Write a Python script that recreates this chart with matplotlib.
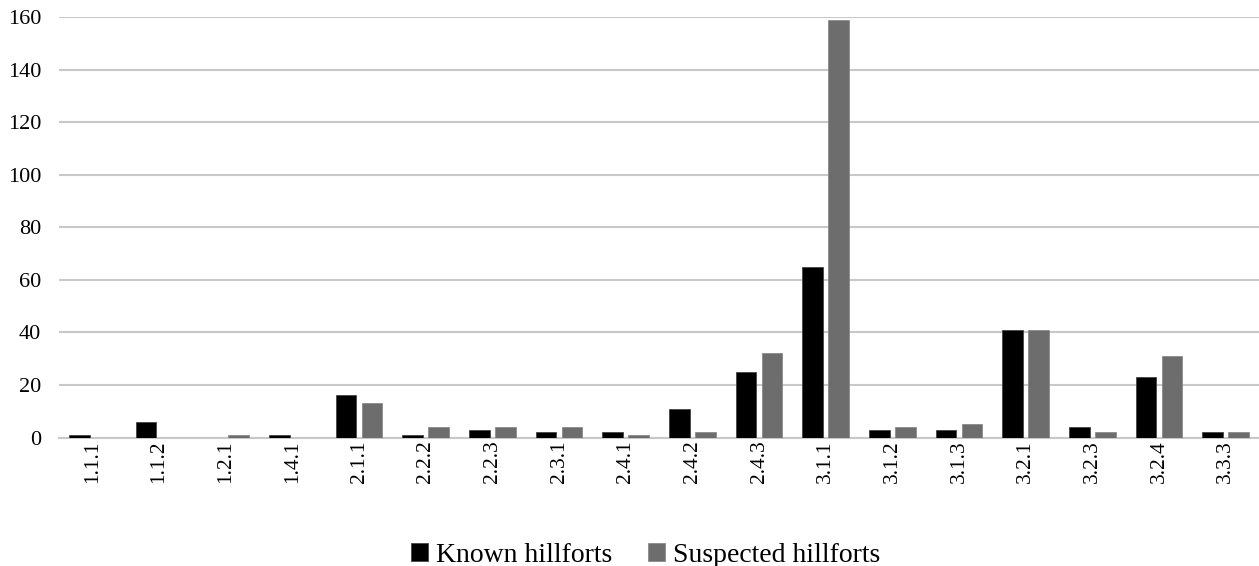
import numpy as np
import matplotlib.pyplot as plt

categories = ['1.1.1', '1.1.2', '1.2.1', '1.4.1', '2.1.1', '2.2.2', '2.2.3', '2.3.1', '2.4.1',
              '2.4.2', '2.4.3', '3.1.1', '3.1.2', '3.1.3', '3.2.1', '3.2.3', '3.2.4', '3.3.3']
known = [1, 6, 0, 1, 16, 1, 3, 2, 2, 11, 25, 65, 3, 3, 41, 4, 23, 2]
suspected = [0, 0, 1, 0, 13, 4, 4, 4, 1, 2, 32, 159, 4, 5, 41, 2, 31, 2]
y_ticks = [0, 20, 40, 60, 80, 100, 120, 140, 160]

plt.rcParams['font.family'] = ['Liberation Serif', 'DejaVu Serif']

fig = plt.figure(figsize=(12.59, 5.66), dpi=100)
ax = fig.add_axes([0.047, 0.227, 0.953, 0.743])

x = np.arange(len(categories))
w = 0.31
gap = 0.04
ax.bar(x - w / 2 - gap, known, width=w, color='black', edgecolor='#444444', linewidth=0.6,
       label='Known hillforts', zorder=3)
ax.bar(x + w / 2 + gap, suspected, width=w, color='#6d6d6d', edgecolor='#8a8a8a', linewidth=0.6,
       label='Suspected hillforts', zorder=3)

ax.set_xlim(-0.5, len(categories) - 0.5)
ax.set_ylim(0, 160)
ax.set_yticks(y_ticks)
ax.set_xticks(x)
ax.set_xticklabels(categories, rotation=90)
ax.tick_params(axis='both', length=0, colors='black')
ax.tick_params(axis='x', pad=2, labelsize=15.5)
ax.tick_params(axis='y', pad=13, labelsize=16)
ax.grid(axis='y', color='#c8c8c8', linewidth=1.5, zorder=0)
for side in ['top', 'right', 'left']:
    ax.spines[side].set_visible(False)
ax.spines['bottom'].set_color('#c8c8c8')
ax.spines['bottom'].set_linewidth(1.5)

fig.legend(loc='center', bbox_to_anchor=(0.513, 0.019), ncol=2, frameon=False, fontsize=20,
           handlelength=0.6, handleheight=0.6, handletextpad=0.3, columnspacing=1.3)

fig.savefig('out.png', dpi=100)
